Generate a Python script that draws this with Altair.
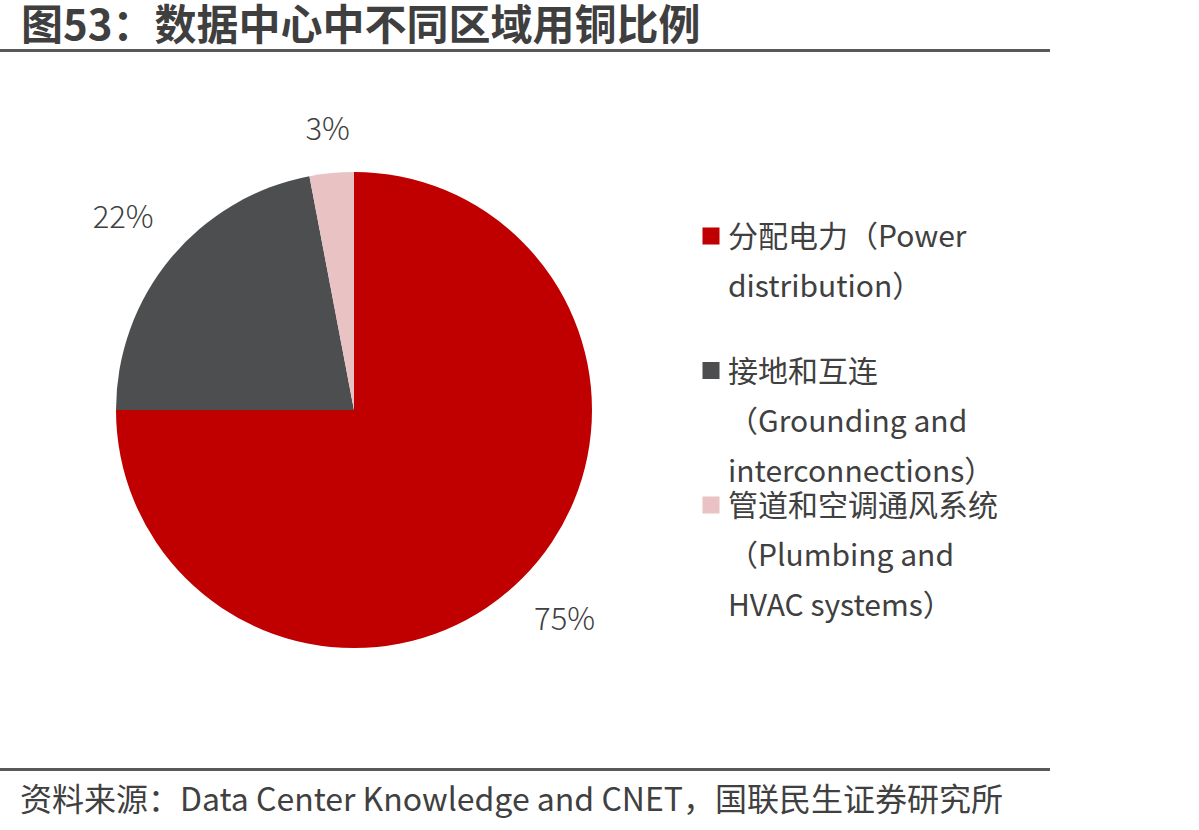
import altair as alt
import pandas as pd

categories = ["分配电力（Power distribution）", "接地和互连（Grounding and interconnections）", "管道和空调通风系统（Plumbing and HVAC systems）"]
legend_labels = ["分配电力（Power|distribution）", "接地和互连|（Grounding and|interconnections）", "管道和空调通风系统|（Plumbing and|HVAC systems）"]
values = [75, 22, 3]
pct_labels = ["75%", "22%", "3%"]
colors = ["#C00000", "#4D4E50", "#E9C3C4"]

title_text = "图53：数据中心中不同区域用铜比例"
source_text = "资料来源：Data Center Knowledge and CNET，国联民生证券研究所"

df = pd.DataFrame({
    "category": categories,
    "legend": legend_labels,
    "value": values,
    "pct": pct_labels,
    "idx": list(range(len(categories))),
})
one = pd.DataFrame({"title": [title_text], "source": [source_text]})

FONT = "Noto Sans CJK SC"
TXT = "#404040"
CX, CY, R = 354, 410, 238

color = alt.Color("category:N", scale=alt.Scale(domain=categories, range=colors), legend=None)
theta = alt.Theta("value:Q", stack=True)
order = alt.Order("idx:Q")

base = alt.Chart(df)
deco = alt.Chart(one)

pie = base.mark_arc(outerRadius=R, stroke=None).encode(
    theta=theta, color=color, order=order,
    x=alt.value(CX), y=alt.value(CY),
)

# label distance grows where the label box is wide relative to the direction
pct = alt.Chart(df).transform_joinaggregate(total="sum(value)").transform_window(
    cum="sum(value)", sort=[alt.SortField("idx")]
).transform_calculate(
    mid="(datum.cum - datum.value / 2) / datum.total * 2 * PI",
    r="278 + 28 * abs(sin(datum.mid))",
).mark_text(font=FONT, fontSize=31, fontWeight=300, color=TXT).encode(
    theta=alt.Theta("mid:Q", scale=None, stack=None),
    radius=alt.Radius("r:Q", scale=None),
    text="pct:N",
    x=alt.value(CX), y=alt.value(CY),
)

ypos = alt.Y("idx:O", axis=None, scale=alt.Scale(type="point", range=[236, 505], padding=0))

leg_sq = base.mark_square(size=290, opacity=1).encode(
    x=alt.value(711), y=ypos, color=color,
)
leg_txt = base.mark_text(
    align="left", baseline="alphabetic", dy=11, lineBreak="|", lineHeight=50,
    font=FONT, fontSize=30, color=TXT,
).encode(x=alt.value(728), y=ypos, text="legend:N")

title = deco.mark_text(
    align="left", baseline="middle", font=FONT, fontSize=42, fontWeight="bold", color="#3F3F3F"
).encode(x=alt.value(21), y=alt.value(27), text="title:N")

top_rule = deco.mark_rect(color="#595959").encode(
    x=alt.value(0), x2=alt.value(1050), y=alt.value(49), y2=alt.value(52)
)
bot_rule = deco.mark_rect(color="#595959").encode(
    x=alt.value(0), x2=alt.value(1050), y=alt.value(768), y2=alt.value(771)
)
source = deco.mark_text(
    align="left", baseline="middle", font=FONT, fontSize=32, color=TXT
).encode(x=alt.value(20), y=alt.value(801), text="source:N")

chart = alt.layer(pie, pct, leg_sq, leg_txt, title, top_rule, bot_rule, source).properties(
    width=1199, height=830, padding=0, autosize=alt.AutoSizeParams(type="none"),
    background="white",
).configure_view(stroke=None, strokeWidth=0)

chart.save("out.html", embed_options={"renderer": "svg", "actions": False})
